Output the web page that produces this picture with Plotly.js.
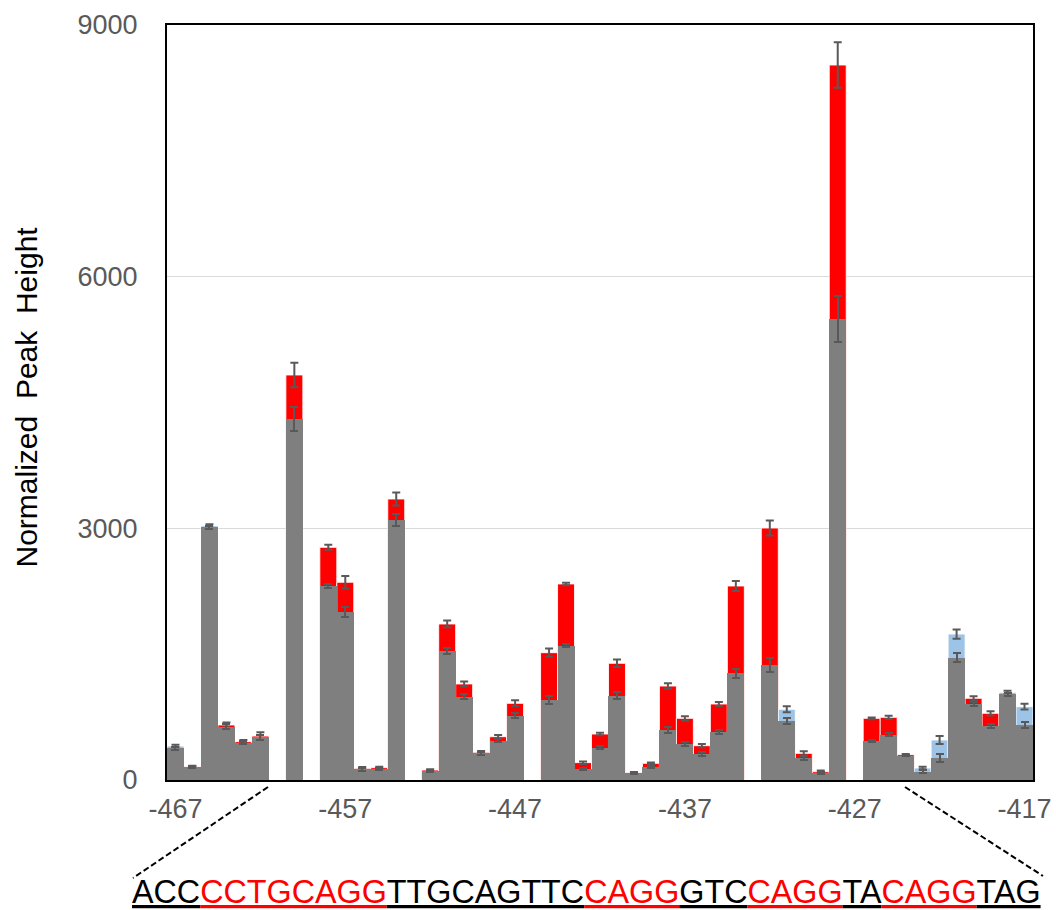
<!DOCTYPE html>
<html>
<head>
<meta charset="utf-8">
<script src="https://cdn.plot.ly/plotly-3.0.1.min.js"></script>
<style>
  html, body { margin: 0; padding: 0; background: #ffffff; }
  #chart { width: 1056px; height: 910px; }
</style>
</head>
<body>
<div id="chart"></div>
<script>
// Nucleotide positions along the promoter fragment
const positions = [
  -467, -466, -465, -464, -463, -462, -461, -460, -459, -458,
  -457, -456, -455, -454, -453, -452, -451, -450, -449, -448,
  -447, -446, -445, -444, -443, -442, -441, -440, -439, -438,
  -437, -436, -435, -434, -433, -432, -431, -430, -429, -428,
  -427, -426, -425, -424, -423, -422, -421, -420, -419, -418,
  -417
];

// Normalized peak heights for the two samples (null = no peak scored)
const sampleA = [
  405, 158, 3030, 636, 445, 510, null, 4303, null, 2313,
  2003, 128, 135, 3100, null, 110, 1538, 990, 318, 469,
  767, null, 954, 1601, 131, 385, 1005, 78, 159, 596,
  425, 306, 572, 1272, null, 1371, 843, 258, 83, 5495,
  null, 469, 540, 292, 143, 477, 1740, 902, 648, 1045,
  874
];
const sampleB = [
  378, 158, 3010, 656, 457, 524, null, 4828, null, 2774,
  2357, 139, 147, 3350, null, 119, 1860, 1145, 330, 516,
  914, null, 1518, 2337, 207, 548, 1391, 87, 199, 1120,
  735, 409, 906, 2313, null, 3004, 703, 318, 99, 8523,
  null, 735, 747, 302, 99, 258, 1458, 974, 795, 1022,
  656
];

// Standard deviations
const errA = [
  15, 12, 20, 30, 20, 30, null, 140, null, 25,
  60, 15, 12, 75, null, 10, 40, 30, 15, 20,
  33, null, 44, 15, 15, 15, 44, 8, 10, 30,
  25, 25, 26, 56, null, 80, 36, 25, 15, 275,
  null, 10, 20, 8, 15, 48, 55, 25, 25, 20,
  35
];
const errB = [
  15, 12, 20, 30, 20, 45, null, 145, null, 30,
  75, 15, 12, 77, null, 10, 40, 30, 15, 20,
  36, null, 50, 15, 15, 15, 44, 8, 10, 32,
  25, 20, 24, 60, null, 90, 34, 25, 15, 272,
  null, 10, 20, 8, 15, 48, 55, 25, 25, 20,
  35
];

const xTickVals = [-467, -457, -447, -437, -427, -417];
const xTickText = ['-467', '-457', '-447', '-437', '-427', '-417'];

// Sequence shown under the axis; highlighted runs are the CAGG-type motifs
const seqSegments  = ['ACC', 'CCTGCAGG', 'TTGCAGTTC', 'CAGG', 'GTC', 'CAGG', 'TA', 'CAGG', 'TAG'];
const seqHighlight = [false, true, false, true, false, true, false, true, false];

const RED = '#ff0000';
const BLUE = '#9dc3e6';
const GRAY = '#7f7f7f';
const ERR = '#595959';
const FONT = 'Arial, "Liberation Sans", sans-serif';

// Back bar = larger of the two samples (red when B is higher, blue when A is higher);
// front bar = smaller of the two, drawn gray on top.
const upper = [], lower = [], upperErr = [], lowerErr = [], upperColor = [];
positions.forEach((p, i) => {
  const a = sampleA[i], b = sampleB[i];
  if (a == null || b == null) {
    upper.push(null); lower.push(null);
    upperErr.push(null); lowerErr.push(null);
    upperColor.push(GRAY);
    return;
  }
  const bHigher = b >= a;
  upper.push(bHigher ? b : a);
  lower.push(bHigher ? a : b);
  upperErr.push(bHigher ? errB[i] : errA[i]);
  lowerErr.push(bHigher ? errA[i] : errB[i]);
  upperColor.push(bHigher ? RED : BLUE);
});

const errStyle = (arr) => ({
  type: 'data', array: arr, visible: true,
  color: ERR, thickness: 2, width: 4
});

const traces = [
  {
    type: 'bar', x: positions, y: upper,
    marker: { color: upperColor, line: { color: 'rgba(255,255,255,0.85)', width: 1 } },
    error_y: errStyle(upperErr),
    hoverinfo: 'x+y', showlegend: false
  },
  {
    type: 'bar', x: positions, y: lower,
    marker: { color: GRAY, line: { width: 0 } },
    error_y: errStyle(lowerErr),
    hoverinfo: 'x+y', showlegend: false
  }
];

// Convert pixel positions in the figure to paper coordinates
const M = { l: 167, r: 23, t: 25, b: 130 };
const W = 1056, H = 910;
const PW = W - M.l - M.r, PH = H - M.t - M.b;
const px = (x) => (x - M.l) / PW;
const py = (y) => (H - M.b - y) / PH;

const seqText = seqSegments.map((s, i) =>
  `<span style="color:${seqHighlight[i] ? RED : '#000000'};text-decoration:underline">${s}</span>`
).join('');

const layout = {
  width: W, height: H,
  margin: M,
  paper_bgcolor: '#ffffff',
  plot_bgcolor: '#ffffff',
  barmode: 'overlay',
  bargap: 0,
  font: { family: FONT, color: '#595959' },
  xaxis: {
    range: [-467.5, -416.5],
    tickmode: 'array', tickvals: xTickVals, ticktext: xTickText,
    tickfont: { size: 27, color: '#595959', family: FONT },
    ticks: '', showgrid: false, zeroline: false,
    showline: true, mirror: true, linecolor: '#000000', linewidth: 2,
    ticklabelstandoff: 4
  },
  yaxis: {
    range: [0, 9000],
    tickmode: 'array', tickvals: [0, 3000, 6000, 9000],
    tickfont: { size: 27, color: '#595959', family: FONT },
    ticks: '', showgrid: true, gridcolor: '#d9d9d9', gridwidth: 1.5,
    zeroline: false,
    showline: true, mirror: true, linecolor: '#000000', linewidth: 2,
    ticklabelstandoff: 22
  },
  annotations: [
    {
      xref: 'paper', yref: 'paper',
      x: px(26), y: py(397.5),
      xanchor: 'center', yanchor: 'middle',
      textangle: -90, showarrow: false,
      text: 'Normalized\u00a0 Peak\u00a0 Height',
      font: { size: 30, color: '#000000', family: FONT }
    },
    {
      xref: 'paper', yref: 'paper',
      x: px(586.5), y: py(891.5),
      xanchor: 'center', yanchor: 'middle',
      showarrow: false,
      text: seqText,
      font: { size: 32.3, color: '#000000', family: FONT }
    }
  ],
  shapes: [
    {
      type: 'line', xref: 'paper', yref: 'paper',
      x0: px(268), y0: py(787), x1: px(133), y1: py(878),
      line: { color: '#000000', width: 2, dash: '6px,3px' }
    },
    {
      type: 'line', xref: 'paper', yref: 'paper',
      x0: px(905), y0: py(787), x1: px(1043), y1: py(876),
      line: { color: '#000000', width: 2, dash: '6px,3px' }
    }
  ]
};

Plotly.newPlot('chart', traces, layout, { displayModeBar: false, staticPlot: true });
</script>
</body>
</html>
